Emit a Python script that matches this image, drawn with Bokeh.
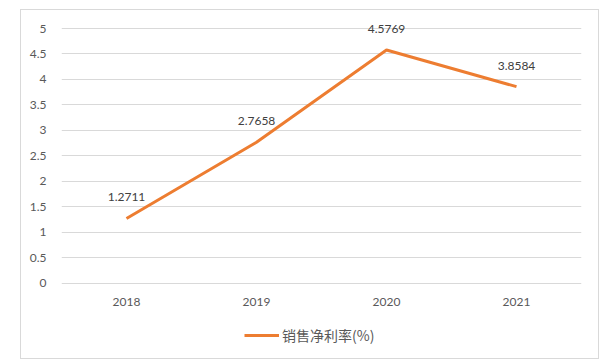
from bokeh.plotting import figure
from bokeh.layouts import row, column
from bokeh.models import ColumnDataSource, FactorRange, Range1d, FixedTicker, Legend, LegendItem, Spacer
from bokeh.core.properties import value
from bokeh.embed import file_html
from bokeh.resources import INLINE

years = ["2018", "2019", "2020", "2021"]
net_margin = [1.2711, 2.7658, 4.5769, 3.8584]
label_texts = ["1.2711", "2.7658", "4.5769", "3.8584"]
y_ticks = [0, 0.5, 1, 1.5, 2, 2.5, 3, 3.5, 4, 4.5, 5]
y_tick_labels = ["0", "0.5", "1", "1.5", "2", "2.5", "3", "3.5", "4", "4.5", "5"]
series_name = "销售净利率(%)"

src = ColumnDataSource(dict(x=years, y=net_margin, t=label_texts))

# frame extends below 0 and above 5 so that labels and legend are not clipped
p = figure(width=577, height=348, x_range=FactorRange(*years, range_padding=0),
           y_range=Range1d(-1.419, 5.275), output_backend="svg", toolbar_location=None,
           min_border_left=40, min_border_right=17, min_border_top=4, min_border_bottom=3)
p.styles = {"outline": "1px solid #D9D9D9"}
p.outline_line_color = None
p.background_fill_color = "white"
p.border_fill_color = "white"

p.xgrid.grid_line_color = None
p.ygrid.grid_line_color = "#D9D9D9"
p.ygrid.grid_line_width = 1
p.xaxis.visible = False

yax = p.yaxis[0]
yax.ticker = FixedTicker(ticks=y_ticks)
yax.major_label_overrides = {t: l for t, l in zip(y_ticks, y_tick_labels)}
yax.axis_line_color = None
yax.major_tick_line_color = None
yax.minor_tick_line_color = None
yax.major_label_text_font = "Lato"
yax.major_label_text_font_size = "12px"
yax.major_label_text_color = "#595959"
yax.major_label_standoff = 9

# category labels under the 0 line
p.text(x=years, y=0, text=years, text_align="center", text_baseline="middle",
       y_offset=18.5, text_font=value("Lato"), text_font_size="12px", text_color="#595959")

r = p.line("x", "y", source=src, line_color="#ED7D31", line_width=3)
p.text("x", "y", text="t", source=src, text_align="center", text_baseline="middle",
       y_offset=-21, text_font=value("Lato"), text_font_size="12px", text_color="#404040")

legend = Legend(items=[LegendItem(label=series_name, renderers=[r])],
                location=(183, 10), orientation="horizontal",
                padding=0, margin=0, border_line_color=None, background_fill_alpha=0,
                glyph_width=35, glyph_height=20, label_height=20, label_standoff=3,
                label_text_font="Noto Sans CJK SC", label_text_font_size="14px",
                label_text_color="#595959")
p.add_layout(legend, "center")

layout = column(Spacer(height=10), row(Spacer(width=21), p))
open("out.html", "w").write(file_html(layout, INLINE))
